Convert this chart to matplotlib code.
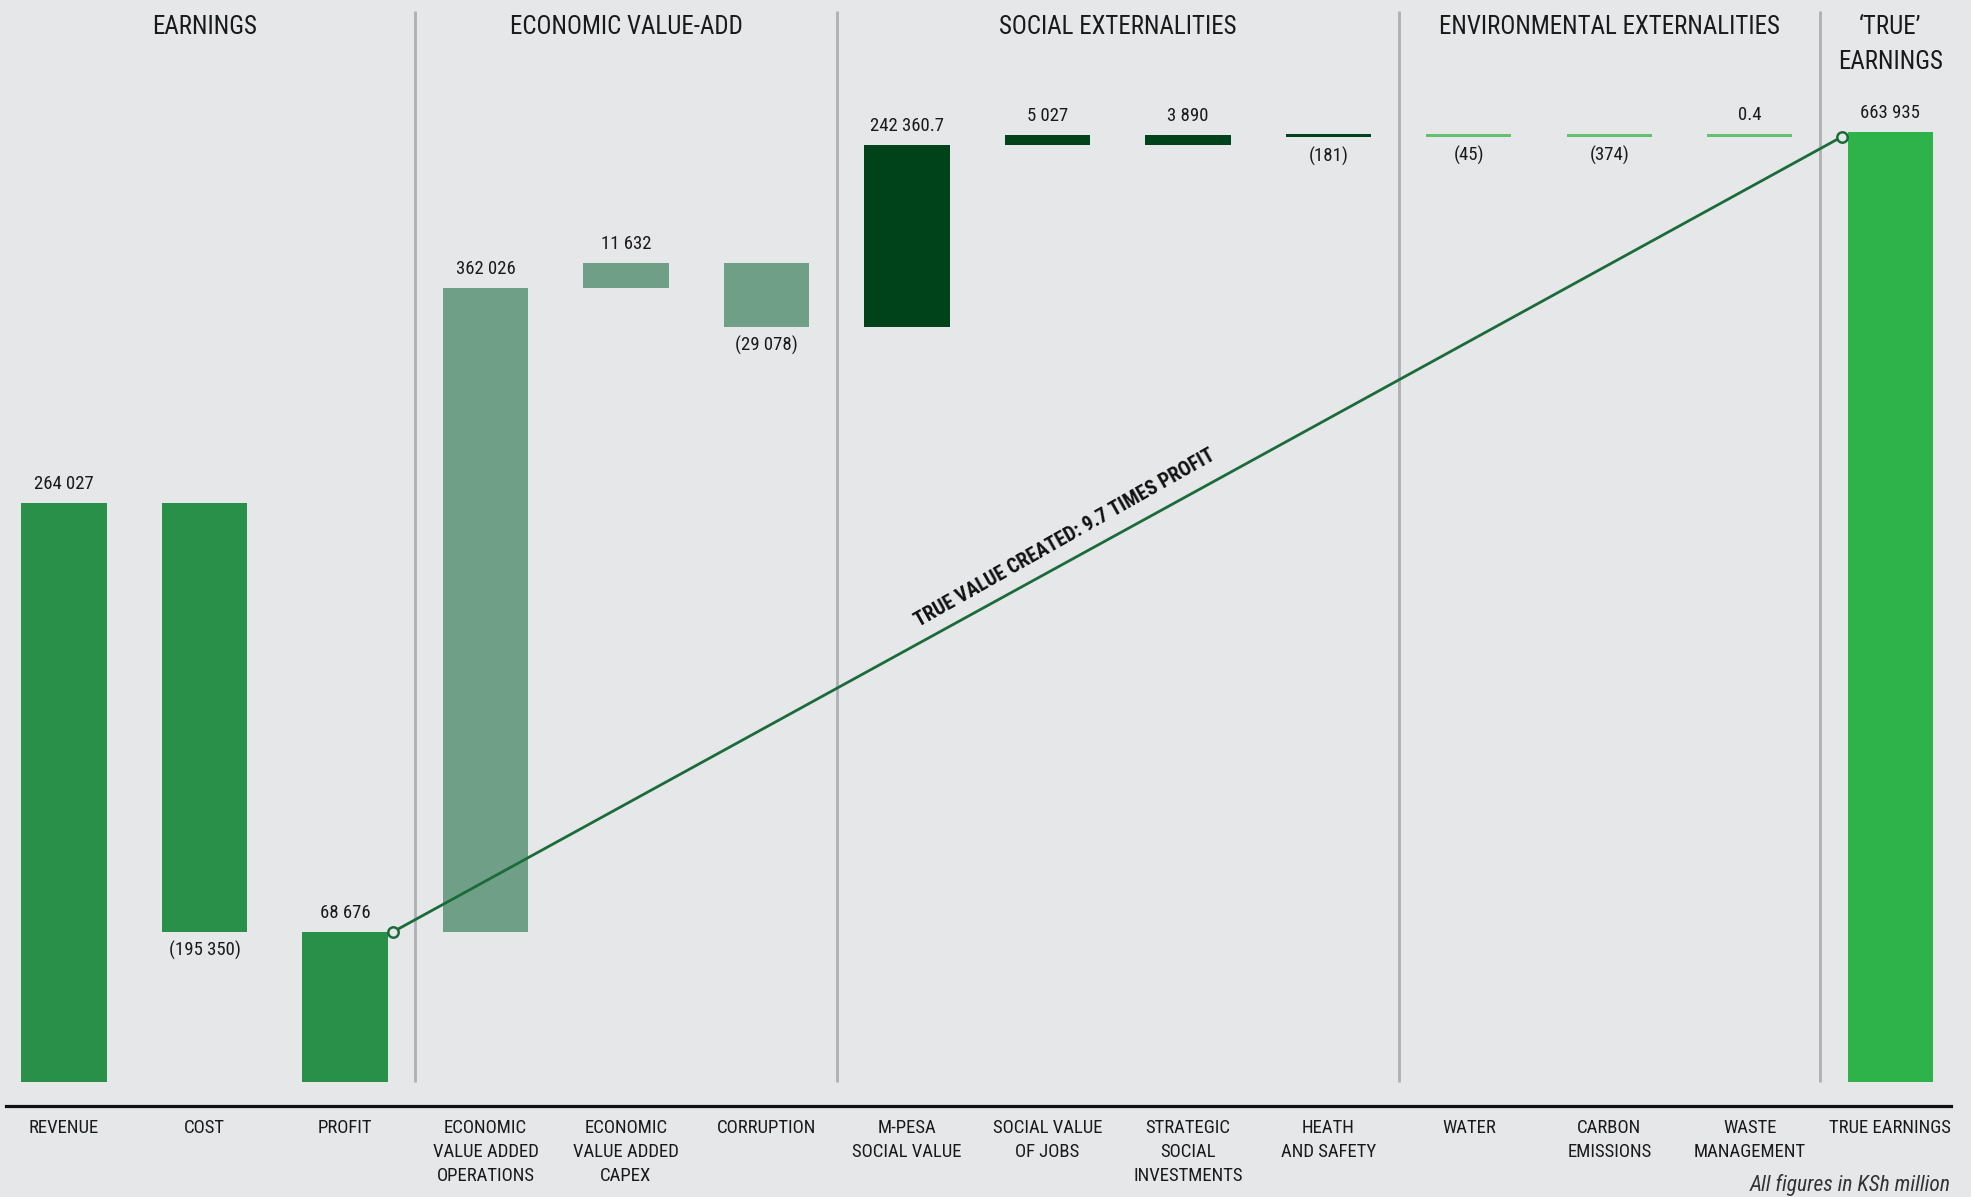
import numpy as np
import matplotlib
matplotlib.use('Agg')
import matplotlib.pyplot as plt

plt.rcParams['font.family'] = ['Roboto Condensed', 'Open Sans Condensed', 'DejaVu Sans']
plt.rcParams['font.stretch'] = 'condensed'

# Categories along the x axis
categories = ['REVENUE', 'COST', 'PROFIT',
              'ECONOMIC\nVALUE ADDED\nOPERATIONS', 'ECONOMIC\nVALUE ADDED\nCAPEX', 'CORRUPTION',
              'M-PESA\nSOCIAL VALUE', 'SOCIAL VALUE\nOF JOBS', 'STRATEGIC\nSOCIAL\nINVESTMENTS',
              'HEATH\nAND SAFETY', 'WATER', 'CARBON\nEMISSIONS', 'WASTE\nMANAGEMENT',
              'TRUE EARNINGS']

# Reported amounts (KSh million)
amounts = [264027, -195350, 68676, 362026, 11632, -29078, 242360.7,
           5027, 3890, -181, -45, -374, 0.4, 663935]

# Levels the bars are drawn between
# (the original chart is not to scale after the corruption step)
bar_bottom = [0, 68676, 0, 68676, 362026, 344580, 344580,
              427400, 427400, 431050, 431200, 431200, 431200, 0]
bar_top = [264027, 264027, 68676, 362026, 373658, 373658, 427400,
           432100, 432100, 432300, 432300, 432300, 432300, 433200]

# Sections: title, first index, last index
sections = [('EARNINGS', 0, 2),
            ('ECONOMIC VALUE-ADD', 3, 5),
            ('SOCIAL EXTERNALITIES', 6, 9),
            ('ENVIRONMENTAL EXTERNALITIES', 10, 12),
            ('\u2018TRUE\u2019\nEARNINGS', 13, 13)]
section_colors = ['#299049', '#6fa087', '#00431b', '#62c06e', '#2eb34b']

bg = '#e6e7e9'
line_color = '#1b6b3b'


def fmt(v):
    if v != int(v):
        s = f'{abs(v):,.1f}'
    else:
        s = f'{abs(int(v)):,}'
    s = s.replace(',', ' ')
    return f'({s})' if v < 0 else s


fig = plt.figure(figsize=(19.71, 11.97), dpi=100, facecolor=bg)
ax = fig.add_axes([0.0029, 0.0760, 0.9868, 0.9240])
ax.set_facecolor(bg)

x = np.arange(len(categories))
bar_w = 0.607

colors = []
for (title, a, b), c in zip(sections, section_colors):
    colors += [c] * (b - a + 1)

heights = np.array(bar_top) - np.array(bar_bottom)
ax.bar(x, heights, bottom=bar_bottom, width=bar_w, color=colors, zorder=2)

# value labels
for i, v in enumerate(amounts):
    if v >= 0:
        ax.annotate(fmt(v), (x[i], bar_top[i]), xytext=(0, 13.8), textcoords='offset points',
                    ha='center', va='center', fontsize=13.5, color='#1a1a1a')
    else:
        ax.annotate(fmt(v), (x[i], bar_bottom[i]), xytext=(0, -13.8), textcoords='offset points',
                    ha='center', va='center', fontsize=13.5, color='#1a1a1a')

# section separators and titles
ymax = 493530
for title, a, b in sections:
    if a > 0:
        ax.vlines(a - 0.5, 0, ymax * 0.99, color='#aeb0b3', lw=2.0, zorder=1)
    cx = (a + b) / 2
    lines = title.split('\n')
    for k, t in enumerate(lines):
        ax.text(cx, 1 - (26.5 + 35 * k) / 1106, t, transform=ax.get_xaxis_transform(),
                ha='center', va='center', fontsize=18, color='#1a1a1a')

# profit -> true earnings line
x0, y0 = x[2] + bar_w / 2 + 0.04, amounts[2]
x1, y1 = x[13] - bar_w / 2 - 0.04, bar_top[13] - 2000
ax.plot([x0, x1], [y0, y1], color=line_color, lw=2.0, zorder=3)
ax.plot([x0, x1], [y0, y1], 'o', ms=7.5, mfc=bg, mec=line_color, mew=1.8, zorder=4)

t = 0.471
ax.annotate('TRUE VALUE CREATED: 9.7 TIMES PROFIT',
            (x0 + t * (x1 - x0), y0 + t * (y1 - y0)), xytext=(-7.6, 13.9),
            textcoords='offset points', rotation=29.5, rotation_mode='anchor',
            ha='center', va='center', fontsize=14.5, fontweight='bold', color='#111111')

ax.set_xlim(-0.415, 13.43)
ax.set_ylim(-10807, ymax)
ax.set_xticks(x)
ax.set_xticklabels(categories, fontsize=13.5, color='#1a1a1a')
for lab in ax.get_xticklabels():
    lab.set_linespacing(1.42)
ax.tick_params(axis='x', length=0, pad=9.5)
ax.set_yticks([])
for s in ['top', 'left', 'right']:
    ax.spines[s].set_visible(False)
ax.spines['bottom'].set_linewidth(2.3)
ax.spines['bottom'].set_color('#111111')

fig.text(0.9897, 1 - 1185 / 1197, 'All figures in KSh million', ha='right', va='center',
         fontsize=15.5, style='italic', color='#333333')

plt.savefig('out.png', dpi=100, facecolor=bg)
